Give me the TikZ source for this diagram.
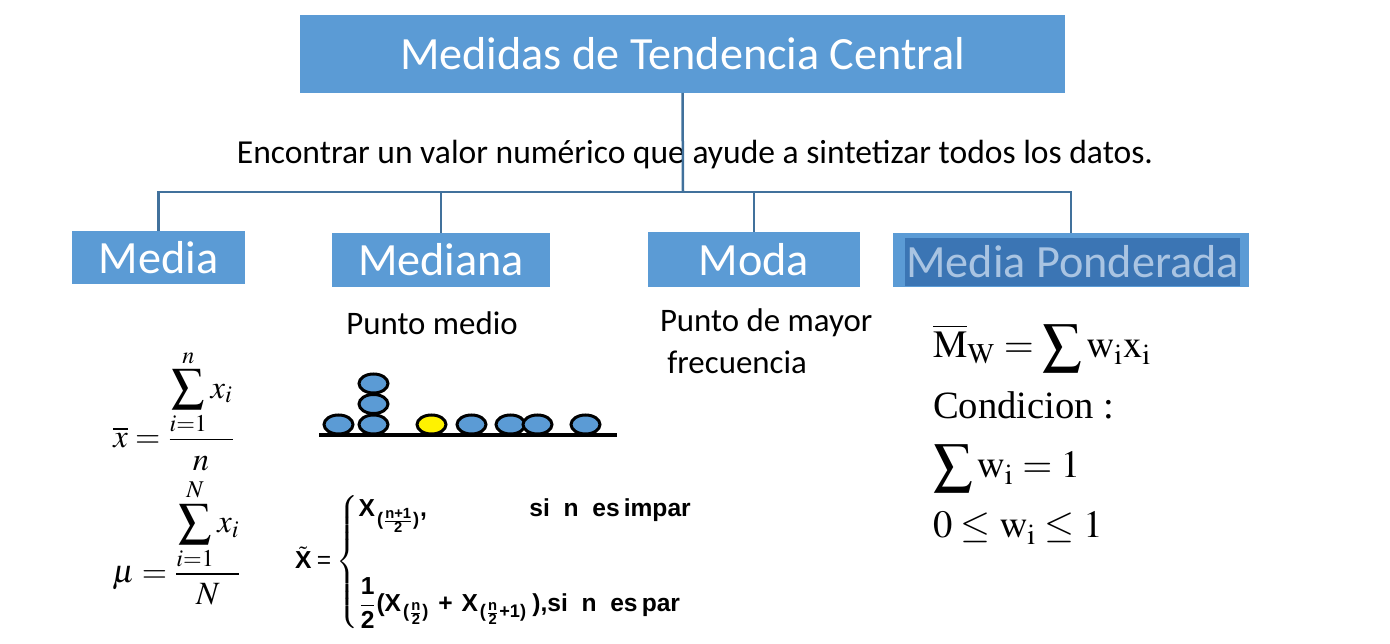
\documentclass[tikz,border=0pt]{standalone}
\usepackage{amsmath}
\usepackage{mathptmx}
\usepackage[no-math]{fontspec}
\setmainfont{Carlito}
\newfontfamily\timesfont{Liberation Serif}
\newfontfamily\arialfont{Liberation Sans}
\usetikzlibrary{positioning}
\definecolor{azul}{HTML}{5B9BD5}
\definecolor{azulosc}{HTML}{3B75B4}
\definecolor{linea}{HTML}{41719C}
\definecolor{textoclaro}{HTML}{A9C4E2}
\newcommand{\tx}[1]{\text{#1}}

\begin{document}
\begin{tikzpicture}[x=0.02cm, y=-0.02cm, every node/.style={inner sep=0pt, outer sep=0pt},
  caja/.style={fill=azul, text=white, font=\fontsize{26.3}{30}\selectfont},
  rama/.style={draw=linea, line width=0.05cm},
  texto/.style={font=\fontsize{18.7}{23.5}\selectfont, align=left},
  formula/.style={font=\fontsize{18.5}{22}\selectfont},
  serif/.style={font=\timesfont\fontsize{22}{26}\selectfont, anchor=base west},
  bola/.style={draw=black, line width=0.06cm, fill=azul}]
\useasboundingbox (0,0) rectangle (1390,644);
\node[caja, minimum width=15.3cm, minimum height=1.56cm] (titulo) at (682.5,54) {Medidas de Tendencia Central};
\node[texto, font=\fontsize{19.1}{23}\selectfont] (objetivo) at (695,155) {Encontrar un valor numérico que ayude a sintetizar todos los datos.};
\node[caja, minimum width=3.46cm, minimum height=1.06cm] (media) at (158.5,257.5) {Media};
\node[caja, minimum width=4.36cm, minimum height=1.08cm] (mediana) at (441,260) {Mediana};
\node[caja, minimum width=4.24cm, minimum height=1.1cm] (moda) at (754,259.5) {Moda};
\node[caja, minimum width=7.12cm, minimum height=1.08cm] (mponderada) at (1071,260) {};
\node[fill=azulosc, text=textoclaro, font=\fontsize{26.3}{30}\selectfont, minimum width=6.7cm, minimum height=0.96cm] (mpinterior) at (1072.5,262) {Media Ponderada};
\coordinate (nudo) at (683,192);
\draw[rama] (titulo.south) -- (nudo);
\draw[rama] (nudo) -| (media.north);
\draw[rama] (nudo) -| (mediana.north);
\draw[rama] (nudo) -| (moda.north);
\draw[rama] (nudo) -| (mponderada.north);
% textos bajo las cajas
\node[texto] (puntomedio) at (432,323) {Punto medio};
\node[texto, anchor=north west] (puntomayor) at (660,309) {Punto de mayor\\\ frecuencia};
% bolitas de la mediana
\draw[line width=0.08cm] (319,435) -- (617,435);
\foreach \bx/\by in {338.5/424.5, 373.5/424.5, 373.5/404, 373.5/383.5, 471.5/424.5, 510.5/424.5, 537.5/424.5, 585.5/424.5}
  \draw[bola] (\bx,\by) ellipse [x radius=0.29cm, y radius=0.19cm];
\draw[bola, fill=yellow] (431.5,424.5) ellipse [x radius=0.29cm, y radius=0.19cm];
% formulas
\node[formula] (fmedia) at (174,410) {$\overline{x}=\dfrac{\displaystyle\sum_{i=1}^{n}x_i}{n}$};
\node[formula] (fmu) at (177,542) {$\mu=\dfrac{\displaystyle\sum_{i=1}^{N}x_i}{N}$};
\node[font=\arialfont\bfseries\fontsize{14}{17}\selectfont] (fmediana) at (494,562)
  {$\tilde{\tx{X}}\mathrel{\textmd{=}}\left\{\begin{array}{@{}l@{}}
    \tx{X}_{\,\tx{(}\frac{\tx{n+1}}{\tx{2}}\tx{)}}\tx{,}\hspace{2.05cm}\tx{si\ \ n\ \ es\,impar}\\[4ex]
    \dfrac{\tx{1}}{\tx{2}}\tx{(X}_{\,\tx{(}\frac{\tx{n}}{\tx{2}}\tx{)}}\;\mathbin{\tx{+}}\;\tx{X}_{\,\tx{(}\frac{\tx{n}}{\tx{2}}\tx{+1)}}\;\tx{),si\ \ n\ \ es\,par}
  \end{array}\right.$};
\node[serif] (mw) at (933,358) {$\overline{\mathrm{M}}_{\mathrm{W}}=\displaystyle\sum\mathrm{w}_{\mathrm{i}}\mathrm{x}_{\mathrm{i}}$};
\node[serif] (condicion) at (933,419) {Condicion :};
\node[serif] (suma) at (933,478) {$\displaystyle\sum\mathrm{w}_{\mathrm{i}}=1$};
\node[serif] (rango) at (933,538) {$0\leq\mathrm{w}_{\mathrm{i}}\leq1$};
\end{tikzpicture}
\end{document}
